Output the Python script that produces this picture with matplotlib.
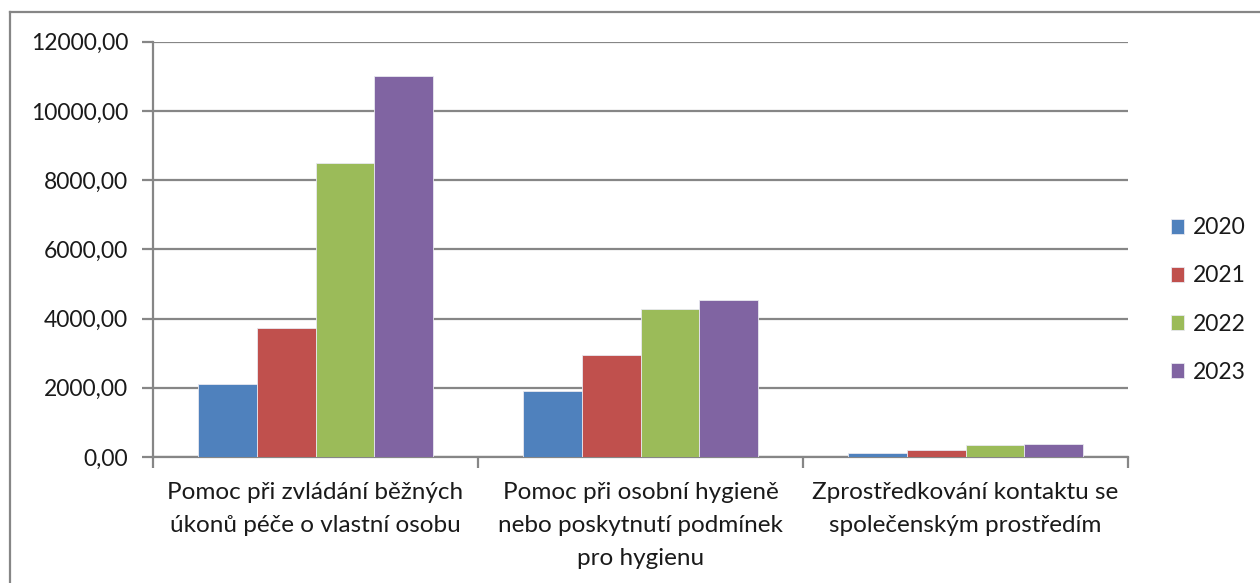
import matplotlib
matplotlib.use("Agg")
import matplotlib.pyplot as plt
import numpy as np
from matplotlib.lines import Line2D
from matplotlib.patches import Patch

plt.rcParams['font.family'] = ['Lato', 'DejaVu Sans']

categories = [
    "Pomoc při zvládání běžných\núkonů péče o vlastní osobu",
    "Pomoc při osobní hygieně\nnebo poskytnutí podmínek\npro hygienu",
    "Zprostředkování kontaktu se\nspolečenským prostředím",
]
years = ["2020", "2021", "2022", "2023"]
values_2020 = [2100, 1920, 130]
values_2021 = [3730, 2950, 200]
values_2022 = [8500, 4280, 360]
values_2023 = [11000, 4550, 390]
series = [values_2020, values_2021, values_2022, values_2023]
colors = ["#4F81BD", "#C0504D", "#9BBB59", "#8064A2"]
yticks = [0, 2000, 4000, 6000, 8000, 10000, 12000]

W, H = 1260, 583
fig = plt.figure(figsize=(W / 100, H / 100), dpi=100)
ax = fig.add_axes([153 / W, 1 - 457 / H, (1128 - 153) / W, (457 - 41.7) / H])

grid_c = "#868686"
txt_c = "#1a1a1a"
x = np.arange(len(categories))
bw = 0.1806
for i, (vals, c) in enumerate(zip(series, colors)):
    ax.bar(x + (i - 1.5) * bw, vals, width=bw, color=c, edgecolor="#e8e8f0",
           linewidth=0.6, label=years[i], zorder=3)

ax.set_xlim(-0.5, len(categories) - 0.5)
ax.set_ylim(0, 12000)
ax.set_yticks(yticks)
ax.set_yticklabels([f"{v:.2f}".replace(".", ",") for v in yticks])
ax.yaxis.grid(True, color=grid_c, linewidth=1.6, zorder=0)
ax.set_axisbelow(True)

ax.set_xticks(x)
ax.set_xticklabels(categories)
ax.set_xticks(np.arange(len(categories) + 1) - 0.5, minor=True)
ax.tick_params(axis="x", which="major", length=0, pad=18, labelsize=17.5, colors=txt_c)
ax.tick_params(axis="x", which="minor", length=8, width=1.6, color=grid_c)
ax.tick_params(axis="y", length=8, width=1.6, color=grid_c, pad=10, labelsize=16.5, labelcolor=txt_c)
for lab in ax.get_xticklabels():
    lab.set_linespacing(1.72)

for s in ["top", "right"]:
    ax.spines[s].set_visible(False)
for s in ["left", "bottom"]:
    ax.spines[s].set_color(grid_c)
    ax.spines[s].set_linewidth(1.6)

handles = [Patch(facecolor=c, edgecolor="#e8e8f0", linewidth=0.6) for c in colors]
fig.legend(handles, years, loc="center left", bbox_to_anchor=(1150 / W, 1 - 300 / H),
           frameon=False, fontsize=16.5, handlelength=0.6, handleheight=0.6,
           handletextpad=0.35, labelspacing=1.18, labelcolor=txt_c)

# chart border (cropped)
fig.add_artist(Line2D([10 / W, 10 / W], [0, 1 - 12 / H], color=grid_c, linewidth=1.6))
fig.add_artist(Line2D([10 / W, 1], [1 - 12 / H, 1 - 12 / H], color=grid_c, linewidth=1.6))

fig.savefig("out.png", dpi=100)
